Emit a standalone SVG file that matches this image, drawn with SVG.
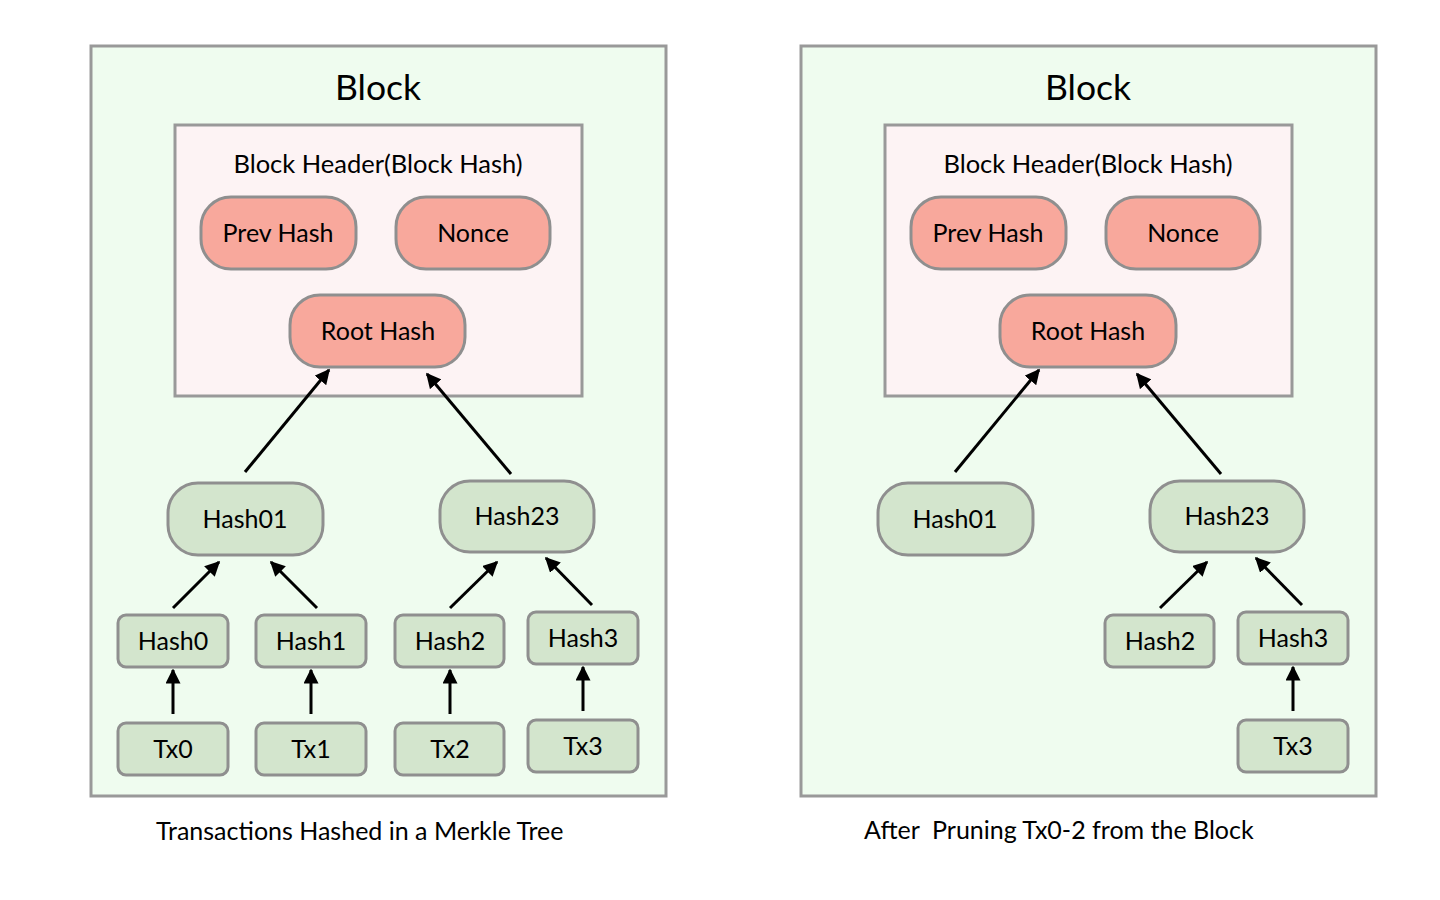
<svg xmlns="http://www.w3.org/2000/svg" width="1440" height="900" viewBox="0 0 1440 900">
<style>
text{font-family:"Lato","Open Sans","Liberation Sans",sans-serif;fill:#000;text-anchor:middle}
.outer{fill:#effcef;stroke:#999;stroke-width:3}
.hdr{fill:#fdf3f4;stroke:#999;stroke-width:3}
.red{fill:#f8a89c;stroke:#8f8f8f;stroke-width:3}
.grn{fill:#d3e5cd;stroke:#8f8f8f;stroke-width:3}
.t34{font-size:35.5px}
.t24{font-size:25px}
.th{font-size:25.5px}
.cap{font-size:25px;text-anchor:start}
.arr{stroke:#000;stroke-width:3;fill:none;marker-end:url(#ah)}
</style>
<defs>
<marker id="ah" viewBox="0 0 10 10" refX="9" refY="5" markerWidth="5" markerHeight="5" orient="auto" markerUnits="strokeWidth">
<path d="M0,0 L10,5 L0,10 z" fill="#000"/>
</marker>
</defs>
<rect width="1440" height="900" fill="#fff"/>

<g id="left-panel">
<g id="block-left"><rect class="outer" x="91" y="46" width="575" height="750"/><text class="t34" x="378" y="100">Block</text></g>
<g id="header-left"><rect class="hdr" x="175" y="125" width="407" height="271"/><text class="th" x="378" y="173">Block Header(Block Hash)</text></g>
<g id="prevhash-left"><rect class="red" x="201" y="197" width="155" height="72" rx="30"/><text class="t24" x="278" y="242">Prev Hash</text></g>
<g id="nonce-left"><rect class="red" x="396" y="197" width="154" height="72" rx="30"/><text class="t24" x="473" y="242">Nonce</text></g>
<g id="roothash-left"><rect class="red" x="290" y="295" width="175" height="72" rx="30"/><text class="t24" x="378" y="340">Root Hash</text></g>
<g id="hash01-left"><rect class="grn" x="168" y="483" width="155" height="72" rx="30"/><text class="t24" x="245" y="528">Hash01</text></g>
<g id="hash23-left"><rect class="grn" x="440" y="481" width="154" height="71" rx="30"/><text class="t24" x="517" y="525">Hash23</text></g>
<g id="hash0-left"><rect class="grn" x="118" y="615" width="110" height="52" rx="8"/><text class="t24" x="173" y="650">Hash0</text></g>
<g id="hash1-left"><rect class="grn" x="256" y="615" width="110" height="52" rx="8"/><text class="t24" x="311" y="650">Hash1</text></g>
<g id="hash2-left"><rect class="grn" x="395" y="615" width="109" height="52" rx="8"/><text class="t24" x="450" y="650">Hash2</text></g>
<g id="hash3-left"><rect class="grn" x="528" y="612" width="110" height="52" rx="8"/><text class="t24" x="583" y="647">Hash3</text></g>
<g id="tx0-left"><rect class="grn" x="118" y="723" width="110" height="52" rx="8"/><text class="t24" x="173" y="758">Tx0</text></g>
<g id="tx1-left"><rect class="grn" x="256" y="723" width="110" height="52" rx="8"/><text class="t24" x="311" y="758">Tx1</text></g>
<g id="tx2-left"><rect class="grn" x="395" y="723" width="109" height="52" rx="8"/><text class="t24" x="450" y="758">Tx2</text></g>
<g id="tx3-left"><rect class="grn" x="528" y="720" width="110" height="52" rx="8"/><text class="t24" x="583" y="755">Tx3</text></g>
<text class="cap" x="156" y="840">Transactions Hashed in a Merkle Tree</text>
</g>

<g id="right-panel">
<g id="block-right"><rect class="outer" x="801" y="46" width="575" height="750"/><text class="t34" x="1088" y="100">Block</text></g>
<g id="header-right"><rect class="hdr" x="885" y="125" width="407" height="271"/><text class="th" x="1088" y="173">Block Header(Block Hash)</text></g>
<g id="prevhash-right"><rect class="red" x="911" y="197" width="155" height="72" rx="30"/><text class="t24" x="988" y="242">Prev Hash</text></g>
<g id="nonce-right"><rect class="red" x="1106" y="197" width="154" height="72" rx="30"/><text class="t24" x="1183" y="242">Nonce</text></g>
<g id="roothash-right"><rect class="red" x="1000" y="295" width="176" height="72" rx="30"/><text class="t24" x="1088" y="340">Root Hash</text></g>
<g id="hash01-right"><rect class="grn" x="878" y="483" width="155" height="72" rx="30"/><text class="t24" x="955" y="528">Hash01</text></g>
<g id="hash23-right"><rect class="grn" x="1150" y="481" width="154" height="71" rx="30"/><text class="t24" x="1227" y="525">Hash23</text></g>
<g id="hash2-right"><rect class="grn" x="1105" y="615" width="109" height="52" rx="8"/><text class="t24" x="1160" y="650">Hash2</text></g>
<g id="hash3-right"><rect class="grn" x="1238" y="612" width="110" height="52" rx="8"/><text class="t24" x="1293" y="647">Hash3</text></g>
<g id="tx3-right"><rect class="grn" x="1238" y="720" width="110" height="52" rx="8"/><text class="t24" x="1293" y="755">Tx3</text></g>
<text class="cap" x="864" y="839" xml:space="preserve">After  Pruning Tx0-2 from the Block</text>
</g>

<g id="connectors">
<line class="arr" x1="245" y1="472" x2="329" y2="370"/>
<line class="arr" x1="511" y1="474" x2="427" y2="374"/>
<line class="arr" x1="173" y1="608" x2="219" y2="562"/>
<line class="arr" x1="317" y1="608" x2="271" y2="562"/>
<line class="arr" x1="450" y1="608" x2="497" y2="562"/>
<line class="arr" x1="592" y1="605" x2="546" y2="558"/>
<line class="arr" x1="173" y1="714" x2="173" y2="670"/>
<line class="arr" x1="311" y1="714" x2="311" y2="670"/>
<line class="arr" x1="450" y1="714" x2="450" y2="670"/>
<line class="arr" x1="583" y1="711" x2="583" y2="667"/>
<line class="arr" x1="955" y1="472" x2="1039" y2="370"/>
<line class="arr" x1="1221" y1="474" x2="1137" y2="374"/>
<line class="arr" x1="1160" y1="608" x2="1207" y2="562"/>
<line class="arr" x1="1302" y1="605" x2="1256" y2="558"/>
<line class="arr" x1="1293" y1="711" x2="1293" y2="667"/>
</g>
</svg>
